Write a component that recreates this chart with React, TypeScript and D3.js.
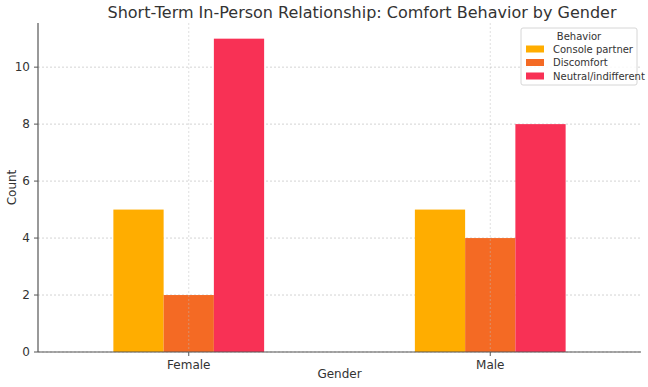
import { useMemo } from "react";
import * as d3 from "d3";

const WIDTH = 648;
const HEIGHT = 387;
const MARGIN = { top: 23, right: 7, bottom: 35, left: 38 };

const genders = ["Female", "Male"];
const behaviors = ["Console partner", "Discomfort", "Neutral/indifferent"];
const consolePartner = [5, 5];
const discomfort = [2, 4];
const neutral = [11, 8];
const yTicks = [0, 2, 4, 6, 8, 10];

const COLORS = ["#FFAD00", "#F46A24", "#F83155"];
const FONT = '"DejaVu Sans", sans-serif';

export default function App() {
  const boundsWidth = WIDTH - MARGIN.left - MARGIN.right;
  const boundsHeight = HEIGHT - MARGIN.top - MARGIN.bottom;
  const series = [consolePartner, discomfort, neutral];

  const xScale = useMemo(
    () => d3.scaleLinear().domain([-0.5, genders.length - 0.5]).range([0, boundsWidth]),
    [boundsWidth]
  );
  const yMax = d3.max(series.flat()) ?? 0;
  const yScale = useMemo(
    () => d3.scaleLinear().domain([0, yMax * 1.05]).range([boundsHeight, 0]),
    [boundsHeight, yMax]
  );

  // pandas-style grouping: total width 0.5, split across series
  const barW = 0.5 / behaviors.length;

  return (
    <svg width={WIDTH} height={HEIGHT} style={{ position: "absolute", left: 0, top: 0, fontFamily: FONT }}>
      <rect width={WIDTH} height={HEIGHT} fill="#fff" />
      <text x={362} y={18} textAnchor="middle" fontSize={16} fill="#333">
        Short-Term In-Person Relationship: Comfort Behavior by Gender
      </text>
      <g transform={`translate(${MARGIN.left},${MARGIN.top})`}>
        {/* horizontal grid */}
        {yTicks.map((t) => (
          <line key={t} x1={0} x2={boundsWidth} y1={yScale(t)} y2={yScale(t)}
            stroke="#c8c8c8" strokeDasharray="2,2" strokeWidth={0.8} />
        ))}
        {/* bars */}
        {series.map((vals, s) =>
          vals.map((v, i) => {
            const x0 = xScale(i - 0.25 + s * barW);
            const x1 = xScale(i - 0.25 + (s + 1) * barW);
            return (
              <rect key={`${s}-${i}`} x={x0} y={yScale(v)} width={x1 - x0}
                height={boundsHeight - yScale(v)} fill={COLORS[s]} />
            );
          })
        )}
        {/* vertical grid shows faintly over the bars */}
        {genders.map((g, i) => (
          <line key={g} x1={xScale(i)} x2={xScale(i)} y1={0} y2={boundsHeight}
            stroke="#bbb" strokeOpacity={0.6} strokeDasharray="2,2" strokeWidth={0.8} />
        ))}
        {/* axes */}
        <line x1={0} x2={0} y1={0} y2={boundsHeight} stroke="#555" strokeWidth={1.2} />
        <line x1={0} x2={boundsWidth} y1={boundsHeight} y2={boundsHeight} stroke="#555" strokeWidth={1.2} />
        {yTicks.map((t) => (
          <g key={t} transform={`translate(0,${yScale(t)})`}>
            <line x1={-4} x2={0} stroke="#555" />
            <text x={-8} dy="0.35em" textAnchor="end" fontSize={12} fill="#333">{t}</text>
          </g>
        ))}
        {genders.map((g, i) => (
          <g key={g} transform={`translate(${xScale(i)},${boundsHeight})`}>
            <line y1={0} y2={4} stroke="#555" />
            <text y={13} dy="0.35em" textAnchor="middle" fontSize={12} fill="#333">{g}</text>
          </g>
        ))}
        <text x={boundsWidth / 2} y={boundsHeight + 22} dy="0.35em" textAnchor="middle" fontSize={12} fill="#333">
          Gender
        </text>
        <text transform={`translate(${-22},${boundsHeight / 2}) rotate(-90)`} textAnchor="middle" fontSize={12} fill="#333">
          Count
        </text>
        {/* legend */}
        <g transform={`translate(${boundsWidth - 120},5)`}>
          <rect width={116} height={57} rx={2} fill="#fff" fillOpacity={0.85} stroke="#d6d6d6" />
          <text x={58} y={12} textAnchor="middle" fontSize={10} fill="#333">Behavior</text>
          {behaviors.map((b, k) => (
            <g key={b} transform={`translate(5,${21 + k * 13.5})`}>
              <rect width={18} height={7} y={-3.5} fill={COLORS[k]} />
              <text x={27} dy="0.35em" fontSize={10} fill="#333">{b}</text>
            </g>
          ))}
        </g>
      </g>
    </svg>
  );
}
